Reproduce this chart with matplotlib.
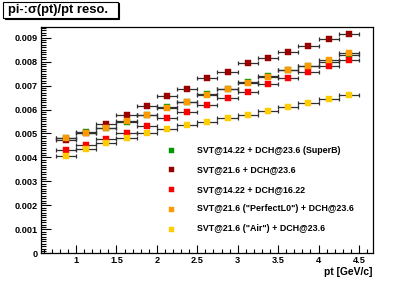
import matplotlib
matplotlib.use("Agg")
import matplotlib.pyplot as plt
from matplotlib.patches import Rectangle
from matplotlib.ticker import MultipleLocator

plt.rcParams['font.family'] = ['Liberation Sans', 'DejaVu Sans']

# ---- data ----
pt = [0.875, 1.125, 1.375, 1.625, 1.875, 2.125, 2.375, 2.625, 2.875, 3.125,
      3.375, 3.625, 3.875, 4.125, 4.375]
pt_err = 0.125

labels = ["SVT@14.22 + DCH@23.6 (SuperB)",
          "SVT@21.6 + DCH@23.6",
          "SVT@14.22 + DCH@16.22",
          "SVT@21.6 (\"PerfectL0\") + DCH@23.6",
          "SVT@21.6 (\"Air\") + DCH@23.6"]
colors = ["#009900", "#990000", "#ff0000", "#ff9900", "#ffcc00"]

superb = [0.00480, 0.00506, 0.00524, 0.00549, 0.00576, 0.00610, 0.00633, 0.00666,
          0.00686, 0.00714, 0.00740, 0.00764, 0.00780, 0.00798, 0.00829]
svt216 = [0.00473, 0.00500, 0.00541, 0.00576, 0.00615, 0.00657, 0.00686, 0.00730,
          0.00758, 0.00793, 0.00815, 0.00840, 0.00866, 0.00894, 0.00914]
dch1622 = [0.00430, 0.00451, 0.00476, 0.00503, 0.00531, 0.00565, 0.00590, 0.00619,
           0.00647, 0.00673, 0.00705, 0.00733, 0.00755, 0.00782, 0.00808]
perfect = [0.00480, 0.00502, 0.00524, 0.00551, 0.00576, 0.00607, 0.00631, 0.00659,
           0.00684, 0.00712, 0.00735, 0.00764, 0.00780, 0.00807, 0.00835]
air = [0.00407, 0.00434, 0.00462, 0.00483, 0.00502, 0.00519, 0.00535, 0.00547,
       0.00565, 0.00578, 0.00594, 0.00609, 0.00629, 0.00645, 0.00661]
series = [superb, svt216, dch1622, perfect, air]

# ---- figure ----
W, H = 415, 281
fig = plt.figure(figsize=(W / 100, H / 100), dpi=100)
x0, x1, y0, y1 = 41.3, 373.3, 27.3, 253.3
ax = fig.add_axes([x0 / W, 1 - y1 / H, (x1 - x0) / W, (y1 - y0) / H])

for vals, c in zip(series, colors):
    ax.errorbar(pt, vals, xerr=pt_err, fmt='none', ecolor='#303030',
                elinewidth=0.9, capsize=1.6, capthick=0.9, zorder=2)
for vals, c in zip(series, colors):
    ax.plot(pt, vals, ls='none', marker='s', ms=4.0, mfc=c, mec=c, mew=0.3, zorder=3)

ax.set_xlim(0.571, 4.677)
ax.set_ylim(0, 0.00943)

ax.xaxis.set_major_locator(MultipleLocator(0.5))
ax.xaxis.set_minor_locator(MultipleLocator(0.1))
ax.yaxis.set_major_locator(MultipleLocator(0.001))
ax.yaxis.set_minor_locator(MultipleLocator(0.0001))
ax.xaxis.set_major_formatter(plt.FuncFormatter(lambda v, p: f"{v:g}"))
ax.yaxis.set_major_formatter(plt.FuncFormatter(lambda v, p: "0" if abs(v) < 1e-12 else f"{v:.3f}"))

ax.tick_params(axis='both', which='both', direction='in', top=False, right=False,
               labelsize=6.6, width=0.8, colors='black')
ax.tick_params(axis='x', which='major', length=5.5, pad=2)
ax.tick_params(axis='x', which='minor', length=2.8)
ax.tick_params(axis='y', which='major', length=7.5, pad=2.5)
ax.tick_params(axis='y', which='minor', length=3.8)
for lab in ax.get_xticklabels() + ax.get_yticklabels():
    lab.set_fontweight('bold')
for s in ax.spines.values():
    s.set_linewidth(0.9)

# legend (manual)
leg_y = [0.457, 0.372, 0.283, 0.197, 0.108]
for lab, c, yy in zip(labels, colors, leg_y):
    ax.plot([0.39], [yy], transform=ax.transAxes, ls='none', marker='s', ms=3.6,
            mfc=c, mec=c, mew=0.3, clip_on=False)
    ax.text(0.468, yy, lab, transform=ax.transAxes, fontsize=6.4, fontweight='bold',
            va='center', ha='left')

# axis label
fig.text(372.7 / W, 1 - 271.7 / H, "pt [GeV/c]", ha='right', va='center',
         fontsize=7.4, fontweight='bold')

# title box with shadow
bx0, by0, bx1, by1 = 3.3, 1.7, 118.0, 18.0
fig.patches.append(Rectangle((bx0 / W + 1.2 / W, 1 - (by1 + 1.2) / H), (bx1 - bx0) / W,
                             (by1 - by0) / H, transform=fig.transFigure,
                             facecolor='black', edgecolor='black', lw=0.8, zorder=1))
fig.patches.append(Rectangle((bx0 / W, 1 - by1 / H), (bx1 - bx0) / W, (by1 - by0) / H,
                             transform=fig.transFigure, facecolor='white',
                             edgecolor='black', lw=0.8, zorder=2))
fig.text(8 / W, 1 - 10 / H, "pi-:\u03c3(pt)/pt reso.", ha='left', va='center',
         fontsize=9.4, fontweight='bold', zorder=3)

fig.savefig("out.png", dpi=100)
